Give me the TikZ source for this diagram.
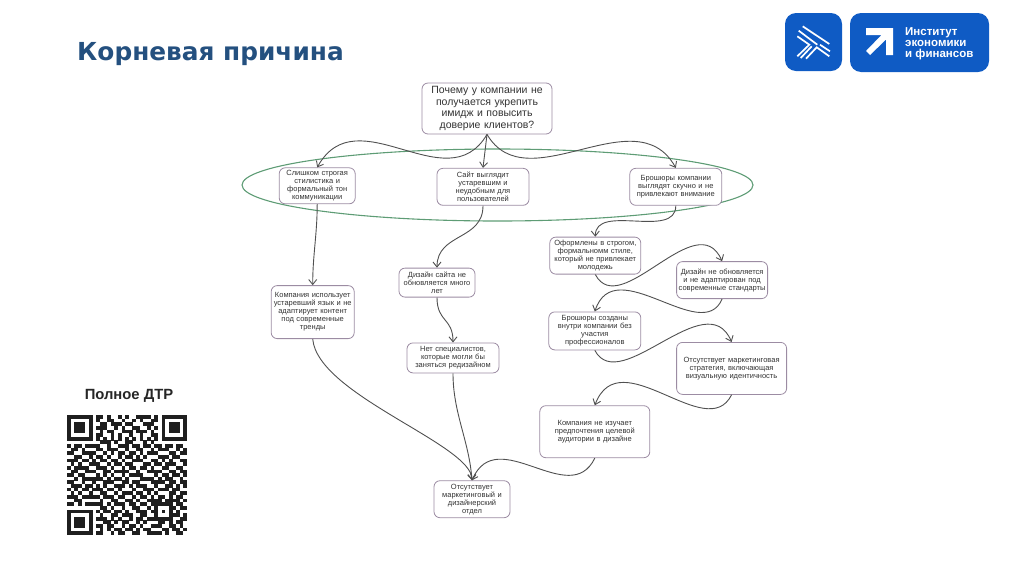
\documentclass[tikz,border=0pt]{standalone}
\usepackage{fontspec}
\setmainfont{Liberation Sans}
\newfontfamily\titlefont{DejaVu Sans}
\usetikzlibrary{arrows.meta,positioning,shapes.geometric}

\definecolor{titleblue}{HTML}{24507F}
\definecolor{logoblue}{HTML}{0F5BC4}
\definecolor{boxline}{HTML}{9C8CA3}
\definecolor{linkgray}{HTML}{505050}
\definecolor{ringgreen}{HTML}{5E9C75}
\definecolor{textgray}{HTML}{333333}

\newcount\qrcol
\newcommand{\qrbits}[1]{\ifx#1\relax\else\if#11\fill[black!88] (67+\the\qrcol*3.636,415+\j*3.636) rectangle +(3.7,3.7);\fi\advance\qrcol by 1 \expandafter\qrbits\fi}

\begin{document}
\begin{tikzpicture}[
    x=1pt, y=-1pt,
    node distance=30pt,
    cause/.style={rectangle, rounded corners=6pt, draw=boxline, fill=white, line width=0.8pt, inner sep=0pt, align=center, text=textgray, font=\fontsize{7.5}{8}\selectfont},
    logobox/.style={rectangle, rounded corners=11pt, fill=logoblue, inner sep=0pt},
    link/.style={->, draw=linkgray, line width=0.9pt},
    >={Straight Barb[length=5pt,width=8pt]}
]
\useasboundingbox (0,0) rectangle (1024,574);

\node[anchor=west, font=\titlefont\bfseries\fontsize{24.8}{26}\selectfont, text=titleblue, inner sep=0pt] (title) at (77,54) {Корневая причина};

% logo
\node[logobox, minimum width=57pt, minimum height=58pt] (mark) at (813.5,42) {};
\node[logobox, minimum width=139pt, minimum height=59pt] (plate) at (919.5,42.5) {};
\draw[white, line width=1.7pt] (802.7,26.3) -- (829.3,44) (798.7,30.7) -- (817.3,44.7) (820,44.7) -- (830,51.3);
\draw[white, line width=1.7pt] (797.3,36.3) -- (809.3,44.7) -- (797.3,56.3) (800.7,58) -- (811.7,46.3) (806,58.7) -- (816.7,47.3) -- (829.3,56.3);
\fill[white] (866,28) -- (893,28) -- (893,55) -- (886,55) -- (886,39.5) -- (870,55) -- (866,51) -- (881.5,35) -- (866,35) -- cycle;
\node[anchor=west, inner sep=0pt, align=left, text=white, font=\bfseries\fontsize{11.5}{11}\selectfont] (plate text) at (905,44) {Институт\\экономики\\и финансов};

% qr
\node[font=\bfseries\fontsize{14.8}{16}\selectfont, text=black!85, inner sep=0pt] (qr title) at (129,396) {Полное ДТР};
\foreach \qrline [count=\j from 0] in {
    1111111 0 11010010100111101 0 1111111,
    1000001 0 10011001001010011 0 1000001,
    1011101 0 01101110110001110 0 1011101,
    1011101 0 11100101001100101 0 1011101,
    1011101 0 01011001110111010 0 1011101,
    1000001 0 11001010010010011 0 1000001,
    1111111 0 10101010101010101 0 1111111,
    0000000 0 01110100110001010 0 0000000,
    1011011 1 10010011101101101 1 0110110,
    0110100 0 11011100100110010 1 1100101,
    1100111 1 00101011011010111 0 0011011,
    0011001 0 11010010110101000 1 1101100,
    1110110 1 01101101001110011 0 1010011,
    0101001 1 10010110110001101 1 0111001,
    1011110 0 11101001011011010 0 1100110,
    0110011 1 00110111100100111 1 0011011,
    1101100 0 10101001011110001 0 1101101,
    0010111 1 11010110100011110 1 0110010,
    1100100 1 00111001101100011 1 1011011,
    0111011 0 10100111010111001 0 0110101,
    1010110 1 11011010001001110 1 1101100,
    0101001 0 01100101110110101 0 0011011,
    1110111 1 10111011001011010 1 1010110,
    0011000 0 01001100110100111 1 0111101,
    1101011 1 1101011101101101 11111 0110,
    0000000 0 0110100100110010 10001 1011,
    1111111 0 1011011010011101 10101 0100,
    1000001 0 0100110111001100 10001 1101,
    1011101 0 1110101001011011 11111 0011,
    1011101 0 0011010110010100 011010110,
    1011101 0 1101100101101001 110011010,
    1000001 0 0101011011010110 001101101,
    1111111 0 1100101100110011 110100110} {
    \qrcol=0
    \expandafter\qrbits\qrline\relax
}

% ring
\node[ellipse, draw=ringgreen, line width=1.1pt, minimum width=511pt, minimum height=72pt, inner sep=0pt] (ring) at (497.5,185) {};

% nodes
\node[cause, text width=130pt, minimum height=51pt, font=\fontsize{10.5}{11.7}\selectfont] (root) at (487,108.5) {Почему у компании не\\получается укрепить\\имидж и повысить\\доверие клиентов?};
\node[cause, text width=92pt, minimum height=37pt, below=33.5pt of root, xshift=-4pt] (site) {Сайт выглядит\\устаревшим и\\неудобным для\\пользователей};
\node[cause, text width=76pt, minimum height=36pt, left=81pt of site, yshift=1pt] (style) {Слишком строгая\\стилистика и\\формальный тон\\коммуникации};
\node[cause, text width=92pt, minimum height=37pt, right=100pt of site] (booklet) {Брошюры компании\\выглядят скучно и не\\привлекают внимание};

\node[cause, text width=83pt, minimum height=53pt, below=81pt of style, xshift=-4.5pt] (lang) {Компания использует\\устаревший язык и не\\адаптирует контент\\под современные\\тренды};

\node[cause, text width=76pt, minimum height=29pt, below=62pt of site, xshift=-46pt] (old) {Дизайн сайта не\\обновляется много\\лет};
\node[cause, text width=92pt, minimum height=30pt, below=45pt of old, xshift=16pt] (staff) {Нет специалистов,\\которые могли бы\\заняться редизайном};

\node[cause, text width=91pt, minimum height=37pt, below=31pt of booklet, xshift=-80.5pt] (formal) {Оформлены в строгом,\\формальномм стиле,\\который не привлекает\\молодежь};
\node[cause, text width=91pt, minimum height=37pt, right=35pt of formal, yshift=-24.5pt] (modern) {Дизайн не обновляется\\и не адаптирован под\\современные стандарты};
\node[cause, text width=92pt, minimum height=38pt, below=37pt of formal, xshift=-0.5pt] (inhouse) {Брошюры созданы\\внутри компании без\\участия\\профессионалов};
\node[cause, text width=110pt, minimum height=52pt, below=43pt of modern, xshift=9.5pt] (strategy) {Отсутствует маркетинговая\\стратегия, включающая\\визуальную идентичность};
\node[cause, text width=110pt, minimum height=52pt, below=55pt of inhouse] (audience) {Компания не изучает\\предпочтения целевой\\аудитории в дизайне};

\node[cause, text width=76pt, minimum height=37pt, below=107pt of staff, xshift=19pt] (dept) {Отсутствует\\маркетинговый и\\дизайнерский\\отдел};

% links
\draw[link] (root.south) .. controls +(-40,68) and +(40,-72) .. (style.north);
\draw[link] (root.south) -- (site.north);
\draw[link] (root.south) .. controls +(40,68) and +(-40,-72) .. (booklet.north);
\draw[link] (style.south) .. controls +(0,30) and +(0,-30) .. (lang.north);
\draw[link] (site.south) .. controls +(0,35) and +(0,-35) .. (old.north);
\draw[link] (old.south) .. controls +(0,25) and +(0,-25) .. (staff.north);
\draw[link] (booklet.south) .. controls +(0,34) and +(0,-34) .. (formal.north);
\draw[link] (formal.south) .. controls +(25,47) and +(-25,-57) .. (modern.north);
\draw[link] (modern.south) .. controls +(-20,47) and +(20,-61) .. (inhouse.north);
\draw[link] (inhouse.south) .. controls +(25,47) and +(-25,-59) .. (strategy.north);
\draw[link] (strategy.south) .. controls +(-25,50) and +(25,-66) .. (audience.north);
\draw[link] (audience.south) .. controls +(-25,52) and +(25,-58) .. (dept.north);
\draw[link] (lang.south) .. controls +(5,56) and +(0,-36) .. (dept.north);
\draw[link] (staff.south) .. controls +(0,40) and +(-3,-40) .. (dept.north);
\end{tikzpicture}
\end{document}
